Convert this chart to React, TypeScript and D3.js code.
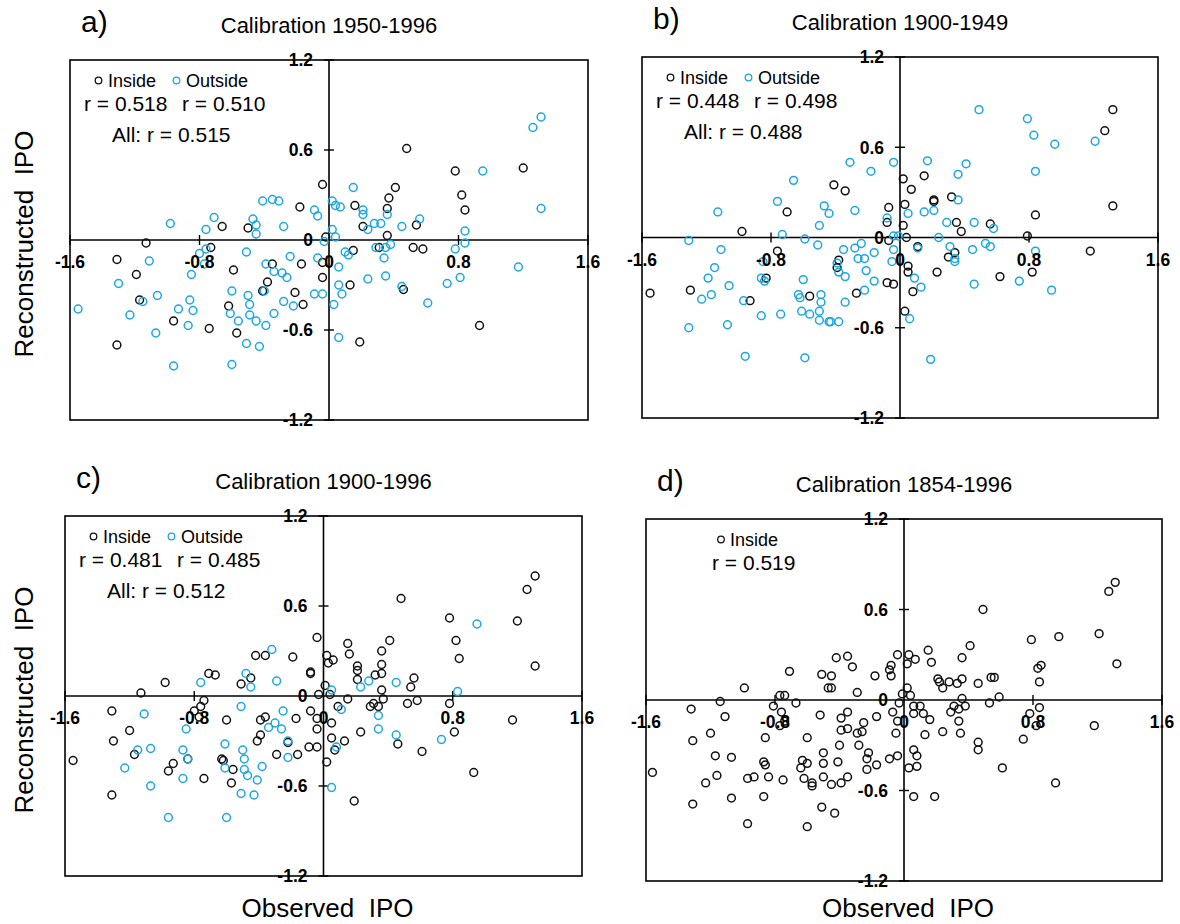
import React from 'react'
import * as d3 from 'd3'

// ---- data (observed IPO, reconstructed IPO) ----
const aInside: [number, number][] = [
  [-0.18,0.22],[-0.66,0.09],[-0.50,0.08],[-1.13,-0.02],[-0.73,-0.05],[-1.31,-0.13],[-0.35,-0.16],[-0.17,-0.16],
  [-0.59,-0.20],[-1.19,-0.23],[-0.38,-0.28],[-0.41,-0.34],[-0.21,-0.35],[-0.16,-0.43],[-1.17,-0.40],[-0.62,-0.44],
  [-0.96,-0.54],[-0.74,-0.59],[-0.57,-0.62],[-1.31,-0.70],
  [0.48,0.61],[1.20,0.48],[0.78,0.46],[-0.04,0.37],[0.41,0.35],[0.37,0.28],[0.82,0.30],[0.16,0.23],[0.36,0.21],
  [0.84,0.20],[0.21,0.09],[0.54,0.10],[-0.02,0.02],[0.36,0.03],[0.31,-0.05],[0.52,-0.05],[0.58,-0.06],[0.15,-0.07],
  [-0.04,-0.15],[-0.04,-0.25],[0.13,-0.30],[0.46,-0.33],[0.93,-0.57],[0.19,-0.68],
]
const aOutside: [number, number][] = [
  [-0.35,0.27],[-0.31,0.26],[-0.41,0.26],[-0.09,0.20],[-0.07,0.16],[-0.71,0.15],[-0.98,0.11],[-0.47,0.14],[-0.45,0.10],
  [-0.45,0.04],[-0.28,0.09],[-0.76,0.07],[-0.76,-0.06],[-0.80,-0.09],[-0.77,-0.16],[-0.51,-0.08],[-0.24,-0.11],
  [-0.07,-0.12],[-1.11,-0.14],[-0.39,-0.16],[-0.34,-0.21],[-0.29,-0.22],[-0.26,-0.25],[-0.85,-0.23],[-1.30,-0.29],
  [-0.40,-0.34],[-0.09,-0.36],[-0.60,-0.34],[-0.50,-0.37],[-0.49,-0.43],[-0.49,-0.50],[-0.28,-0.41],[-0.22,-0.44],
  [-0.34,-0.49],[-0.45,-0.54],[-0.39,-0.57],[-1.06,-0.37],[-1.15,-0.41],[-0.86,-0.40],[-0.93,-0.46],[-0.84,-0.47],
  [-0.61,-0.49],[-0.56,-0.54],[-0.87,-0.57],[-1.23,-0.50],[-1.07,-0.62],[-1.55,-0.46],[-0.51,-0.69],[-0.43,-0.71],
  [-0.96,-0.84],[-0.60,-0.83],
  [1.31,0.82],[1.26,0.75],[0.95,0.46],[0.15,0.35],[0.02,0.26],[0.04,0.23],[0.07,0.22],[1.31,0.21],[0.21,0.20],
  [0.21,0.17],[0.36,0.17],[0.56,0.14],[0.28,0.11],[0.32,0.11],[0.24,0.07],[0.45,0.09],[0.02,0.07],[0.84,0.06],
  [0.04,0.02],[-0.03,-0.01],[0.84,-0.02],[0.38,-0.03],[0.29,-0.05],[0.35,-0.05],[0.78,-0.06],[0.10,-0.08],[0.12,-0.10],
  [0.34,-0.12],[1.17,-0.18],[0.06,-0.18],[0.24,-0.26],[0.35,-0.24],[0.81,-0.25],[0.73,-0.29],[0.06,-0.30],[0.08,-0.36],
  [-0.04,-0.36],[0.45,-0.31],[0.61,-0.42],[0.03,-0.43],[0.06,-0.65],
]

const bInside: [number, number][] = [
  [-0.41,0.35],[-0.34,0.31],[-0.07,0.20],[-0.08,0.10],[-0.70,0.17],[-0.98,0.04],[-0.07,-0.02],[-0.76,-0.09],
  [-0.38,-0.15],[-0.39,-0.20],[-0.83,-0.27],[-0.08,-0.30],[-0.04,-0.31],[-1.30,-0.35],[-1.55,-0.37],[-0.56,-0.39],
  [-0.27,-0.37],[-0.93,-0.42],
  [1.32,0.85],[1.27,0.71],[0.15,0.41],[0.02,0.39],[0.07,0.32],[0.32,0.27],[0.21,0.25],[0.21,0.24],[0.03,0.22],
  [1.32,0.21],[0.84,0.15],[0.35,0.10],[0.56,0.09],[0.38,0.04],[0.02,0.08],[0.79,0.01],[0.04,0.00],[0.11,-0.06],
  [0.34,-0.10],[1.18,-0.09],[0.30,-0.13],[0.05,-0.19],[0.05,-0.23],[0.23,-0.23],[0.08,-0.36],[0.62,-0.26],
  [0.82,-0.23],[0.03,-0.49],
]
const bOutside: [number, number][] = [
  [-0.31,0.50],[-0.04,0.50],[-0.18,0.44],[-0.66,0.38],[-0.76,0.24],[-0.47,0.21],[-0.44,0.16],[-0.28,0.18],[-0.08,0.13],
  [-1.13,0.17],[-0.50,0.08],[-0.73,0.02],[-0.59,-0.01],[-1.31,-0.02],[-0.04,0.01],[-0.24,-0.04],[-0.28,-0.07],
  [-0.35,-0.08],[-0.51,-0.05],[-0.16,-0.10],[-0.04,-0.08],[-1.11,-0.08],[-0.26,-0.14],[-0.22,-0.14],[-0.05,-0.16],
  [-0.39,-0.17],[-0.38,-0.23],[-0.34,-0.26],[-0.21,-0.22],[-0.16,-0.29],[-0.85,-0.16],[-1.15,-0.20],[-1.19,-0.27],
  [-0.86,-0.27],[-0.84,-0.29],[-0.60,-0.28],[-1.06,-0.32],[-1.17,-0.38],[-1.23,-0.41],[-0.63,-0.38],[-0.62,-0.40],
  [-0.49,-0.38],[-0.49,-0.43],[-0.22,-0.35],[-0.34,-0.43],[-0.97,-0.42],[-0.86,-0.52],[-0.74,-0.51],[-0.61,-0.49],
  [-0.56,-0.51],[-0.50,-0.49],[-0.50,-0.55],[-0.44,-0.56],[-0.43,-0.56],[-0.38,-0.56],[-1.07,-0.58],[-1.31,-0.60],
  [-0.96,-0.79],[-0.59,-0.80],
  [0.49,0.85],[0.79,0.79],[0.83,0.68],[0.96,0.62],[1.21,0.64],[0.17,0.51],[0.41,0.49],[0.84,0.44],[0.36,0.42],
  [0.36,0.25],[0.21,0.18],[0.15,0.17],[0.05,0.16],[0.29,0.10],[0.46,0.10],[0.58,0.06],[0.24,0.00],[-0.01,0.01],
  [0.11,-0.07],[0.31,-0.06],[0.53,-0.04],[0.56,-0.06],[0.45,-0.08],[0.84,-0.09],[0.34,-0.14],[0.34,-0.16],[0.09,-0.27],
  [0.13,-0.33],[0.74,-0.29],[0.46,-0.31],[0.94,-0.35],[0.06,-0.54],[0.19,-0.81],
]

const cInside: [number, number][] = [
  [-0.42,0.27],[-0.36,0.27],[-0.19,0.26],[-0.08,0.16],[-0.08,0.15],[-0.71,0.15],[-0.67,0.14],[-0.45,0.12],[-0.51,0.08],
  [-0.98,0.09],[-1.13,0.02],[-0.74,-0.03],[-0.76,-0.07],[-0.80,-0.10],[-0.77,-0.14],[-1.31,-0.10],[-0.08,-0.10],
  [-0.36,-0.14],[-0.39,-0.16],[-0.17,-0.15],[-0.60,-0.16],[-1.20,-0.23],[-1.30,-0.30],[-0.39,-0.26],[-0.41,-0.30],
  [-0.22,-0.31],[-0.09,-0.34],[-1.17,-0.39],[-0.84,-0.42],[-0.29,-0.39],[-0.16,-0.39],[-0.63,-0.42],[-0.62,-0.43],
  [-0.56,-0.49],[-0.93,-0.45],[-0.96,-0.50],[-0.74,-0.55],[-0.57,-0.58],[-1.31,-0.66],[-1.55,-0.43],
  [1.31,0.80],[1.26,0.71],[0.48,0.65],[0.78,0.52],[1.20,0.50],[-0.04,0.39],[0.15,0.35],[0.41,0.37],[0.82,0.37],
  [0.16,0.28],[0.36,0.30],[0.02,0.27],[0.03,0.22],[0.06,0.24],[0.84,0.25],[1.31,0.20],[0.21,0.20],[0.21,0.17],
  [0.36,0.21],[0.32,0.14],[0.36,0.15],[0.56,0.12],[0.21,0.11],[0.54,0.06],[0.36,0.04],[0.01,0.07],[-0.03,0.01],
  [0.04,0.01],[0.15,-0.02],[0.37,-0.02],[0.31,-0.05],[0.29,-0.07],[0.34,-0.07],[0.52,-0.05],[0.58,-0.03],[0.78,-0.05],
  [0.09,-0.07],[1.17,-0.16],[0.05,-0.18],[-0.04,-0.15],[-0.04,-0.22],[0.23,-0.24],[0.46,-0.32],[0.81,-0.24],
  [0.05,-0.28],[0.13,-0.30],[0.07,-0.36],[-0.04,-0.34],[0.61,-0.37],[0.02,-0.44],[0.93,-0.51],[0.19,-0.70],
]
const cOutside: [number, number][] = [
  [-0.32,0.31],[-0.48,0.15],[-0.45,0.06],[-0.29,0.10],[-0.76,0.09],[-0.51,-0.07],[-1.11,-0.12],[-0.25,-0.10],
  [-0.30,-0.18],[-0.34,-0.21],[-0.26,-0.22],[-0.85,-0.22],[-0.22,-0.30],[-0.61,-0.32],[-1.15,-0.36],[-1.07,-0.35],
  [-0.87,-0.36],[-0.84,-0.42],[-0.50,-0.36],[-0.49,-0.42],[-0.49,-0.49],[-0.22,-0.41],[-0.61,-0.48],[-0.47,-0.53],
  [-0.41,-0.56],[-0.38,-0.47],[-1.23,-0.48],[-0.87,-0.55],[-1.07,-0.60],[-0.51,-0.65],[-0.43,-0.66],[-0.96,-0.81],
  [-0.60,-0.81],
  [0.95,0.48],[0.28,0.10],[0.23,0.06],[0.45,0.09],[0.05,0.04],[0.83,0.03],[0.11,-0.09],[0.34,-0.13],[0.34,-0.22],
  [0.45,-0.26],[0.73,-0.29],[0.08,-0.34],[0.05,-0.61],
]

const dInside: [number, number][] = [
  [-0.35,0.29],[-0.42,0.28],[-0.32,0.22],[-0.08,0.23],[-0.09,0.20],[-0.08,0.16],[-0.18,0.16],[-0.71,0.19],[-0.51,0.17],
  [-0.45,0.16],[-0.47,0.08],[-0.45,0.08],[-0.29,0.05],[-0.99,0.08],[-0.77,0.03],[-0.74,0.03],[-1.14,-0.01],[-0.67,-0.02],
  [-0.81,-0.04],[-0.76,-0.08],[-0.74,-0.14],[-0.77,-0.17],[-1.32,-0.06],[-1.11,-0.11],[-0.52,-0.10],[-0.39,-0.12],
  [-0.35,-0.08],[-0.17,-0.11],[-0.07,-0.08],[-0.25,-0.15],[-0.39,-0.20],[-0.35,-0.19],[-0.29,-0.22],[-0.26,-0.21],
  [-1.20,-0.22],[-1.31,-0.27],[-0.86,-0.25],[-0.60,-0.25],[-0.40,-0.30],[-0.28,-0.30],[-0.22,-0.35],[-0.50,-0.35],
  [-1.17,-0.37],[-1.07,-0.38],[-0.87,-0.41],[-0.86,-0.43],[-0.63,-0.40],[-0.60,-0.42],[-0.64,-0.45],[-0.50,-0.42],
  [-0.41,-0.41],[-0.23,-0.39],[-0.23,-0.46],[-0.17,-0.43],[-0.09,-0.39],[-1.56,-0.48],[-1.16,-0.50],[-1.23,-0.55],
  [-0.97,-0.52],[-0.93,-0.51],[-0.84,-0.51],[-0.75,-0.53],[-0.62,-0.52],[-0.57,-0.55],[-0.57,-0.57],[-0.50,-0.51],
  [-0.45,-0.56],[-0.39,-0.55],[-0.35,-0.51],[-1.07,-0.65],[-0.87,-0.64],[-1.31,-0.69],[-0.51,-0.71],[-0.43,-0.75],
  [-0.97,-0.82],[-0.60,-0.84],
  [1.31,0.78],[1.27,0.72],[0.49,0.60],[1.21,0.44],[0.96,0.42],[0.79,0.40],[0.41,0.36],[0.15,0.33],[-0.04,0.30],
  [0.03,0.30],[0.07,0.27],[0.02,0.24],[0.17,0.25],[0.36,0.28],[0.83,0.21],[0.85,0.23],[1.32,0.24],[0.21,0.14],
  [0.22,0.12],[0.24,0.08],[0.28,0.12],[0.33,0.11],[0.36,0.14],[0.46,0.11],[0.54,0.15],[0.56,0.15],[0.84,0.12],
  [0.02,0.08],[-0.01,0.04],[0.04,0.03],[0.36,0.01],[0.59,0.02],[0.53,-0.02],[-0.03,-0.02],[0.06,-0.04],[0.10,-0.04],
  [0.31,-0.04],[0.38,-0.04],[0.34,-0.06],[0.29,-0.08],[0.84,-0.05],[0.78,-0.09],[0.06,-0.09],[0.12,-0.09],[0.16,-0.13],
  [0.34,-0.14],[0.82,-0.17],[1.18,-0.17],[-0.04,-0.14],[-0.05,-0.22],[0.13,-0.23],[0.24,-0.21],[0.35,-0.22],
  [0.46,-0.28],[0.46,-0.33],[0.74,-0.26],[0.06,-0.33],[0.08,-0.37],[-0.04,-0.37],[0.03,-0.45],[0.08,-0.44],
  [0.61,-0.45],[0.94,-0.55],[0.06,-0.64],[0.19,-0.64],
]

const xTicks = [-1.6, -0.8, 0, 0.8, 1.6]
const yTicks = [-1.2, -0.6, 0, 0.6, 1.2]
const titles = ['Calibration 1950-1996', 'Calibration 1900-1949', 'Calibration 1900-1996', 'Calibration 1854-1996']
const letters = ['a)', 'b)', 'c)', 'd)']
const rInside = ['0.518', '0.448', '0.481', '0.519']
const rOutside = ['0.510', '0.498', '0.485', null]
const rAll = ['0.515', '0.488', '0.512', null]

const BLUE = '#1aa7e2'
const BLACK = '#111'
const FONT = 'Arial, "Liberation Sans", Helvetica, sans-serif'

type Box = { left: number, right: number, top: number, bottom: number }

// plain hyphen minus, like the original
const fmt = (v: number) => (v === 0 ? '0' : (v < 0 ? '-' : '') + d3.format('.1f')(Math.abs(v)))

function Panel({ i, box, inside, outside }: { i: number, box: Box, inside: [number, number][], outside: [number, number][] | null }) {
  const x = d3.scaleLinear().domain([-1.6, 1.6]).range([box.left, box.right])
  const y = d3.scaleLinear().domain([-1.2, 1.2]).range([box.bottom, box.top])
  const x0 = x(0)
  const y0 = y(0)
  const midX = (box.left + box.right) / 2
  const onlyInside = outside === null

  return (
    <g>
      <text x={box.left + 11} y={box.top - 28} fontSize={30} fontFamily={FONT}>{letters[i]}</text>
      <text x={midX} y={box.top - 27} fontSize={22} fontFamily={FONT} textAnchor="middle">{titles[i]}</text>

      <rect x={box.left} y={box.top} width={box.right - box.left} height={box.bottom - box.top}
        fill="none" stroke="#000" strokeWidth={1.6} />
      <line x1={box.left} x2={box.right} y1={y0} y2={y0} stroke="#000" strokeWidth={1.6} />
      <line x1={x0} x2={x0} y1={box.top} y2={box.bottom} stroke="#000" strokeWidth={1.6} />

      {xTicks.filter(t => t !== 0).map(t => (
        <line key={'xt' + t} x1={x(t)} x2={x(t)} y1={y0 - 5} y2={y0 + 5} stroke="#000" strokeWidth={1.4} />
      ))}
      {yTicks.filter(t => t !== 0).map(t => (
        <line key={'yt' + t} x1={x0 - 5} x2={x0 + 5} y1={y(t)} y2={y(t)} stroke="#000" strokeWidth={1.4} />
      ))}

      {/* points */}
      {inside.map((d, k) => (
        <circle key={'in' + k} cx={x(d[0])} cy={y(d[1])} r={3.9} fill="none" stroke={BLACK} strokeWidth={1.5} />
      ))}
      {outside && outside.map((d, k) => (
        <circle key={'out' + k} cx={x(d[0])} cy={y(d[1])} r={3.9} fill="none" stroke={BLUE} strokeWidth={1.5} />
      ))}

      {xTicks.map(t => (
        <text key={'xl' + t} x={x(t)} y={y0 + 28} fontSize={17.5} fontWeight="bold" fontFamily={FONT}
          textAnchor="middle">{fmt(t)}</text>
      ))}
      {yTicks.map(t => (
        <text key={'yl' + t} x={x0 - 16} y={y(t)} dy="0.36em" fontSize={17.5} fontWeight="bold" fontFamily={FONT}
          textAnchor="end">{fmt(t)}</text>
      ))}

      {/* legend */}
      {onlyInside ? (
        <g fontFamily={FONT}>
          <circle cx={box.left + 75} cy={box.top + 20.5} r={3.3} fill="none" stroke={BLACK} strokeWidth={1.3} />
          <text x={box.left + 84} y={box.top + 27} fontSize={18}>Inside</text>
          <text x={box.left + 66} y={box.top + 51} fontSize={21}>{`r = ${rInside[i]}`}</text>
        </g>
      ) : (
        <g fontFamily={FONT}>
          <circle cx={box.left + 28.5} cy={box.top + 20.5} r={3.3} fill="none" stroke={BLACK} strokeWidth={1.3} />
          <text x={box.left + 38} y={box.top + 27} fontSize={18}>Inside</text>
          <circle cx={box.left + 106.5} cy={box.top + 20.5} r={3.3} fill="none" stroke={BLUE} strokeWidth={1.3} />
          <text x={box.left + 116} y={box.top + 27} fontSize={18}>Outside</text>
          <text x={box.left + 14} y={box.top + 50.5} fontSize={21}>{`r = ${rInside[i]}`}</text>
          <text x={box.left + 112} y={box.top + 50.5} fontSize={21}>{`r = ${rOutside[i]}`}</text>
          <text x={box.left + 42} y={box.top + 82} fontSize={21}>{`All: r = ${rAll[i]}`}</text>
        </g>
      )}
    </g>
  )
}

export default function App() {
  const boxes: Box[] = [
    { left: 70, right: 588, top: 60, bottom: 420 },
    { left: 642, right: 1158, top: 57, bottom: 418 },
    { left: 65, right: 582, top: 516, bottom: 876 },
    { left: 646, right: 1162, top: 519, bottom: 881 },
  ]
  const sets: [[number, number][], [number, number][] | null][] = [
    [aInside, aOutside], [bInside, bOutside], [cInside, cOutside], [dInside, null],
  ]
  const labelStyle: React.CSSProperties = { whiteSpace: 'pre' }

  return (
    <svg width={1180} height={924} viewBox="0 0 1180 924"
      style={{ position: 'absolute', left: 0, top: 0, background: '#fff', display: 'block' }}>
      <rect width={1180} height={924} fill="#fff" />
      {boxes.map((b, i) => (
        <Panel key={i} i={i} box={b} inside={sets[i][0]} outside={sets[i][1]} />
      ))}
      {[boxes[0], boxes[2]].map((b, k) => (
        <text key={'yl' + k} transform={`translate(33,${(b.top + b.bottom) / 2 + 4}) rotate(-90)`}
          textAnchor="middle" fontSize={26} fontFamily={FONT} style={labelStyle}>Reconstructed  IPO</text>
      ))}
      {[boxes[2], boxes[3]].map((b, k) => (
        <text key={'xl' + k} x={(b.left + b.right) / 2 + 4} y={917} textAnchor="middle" fontSize={26}
          fontFamily={FONT} style={labelStyle}>Observed  IPO</text>
      ))}
    </svg>
  )
}
